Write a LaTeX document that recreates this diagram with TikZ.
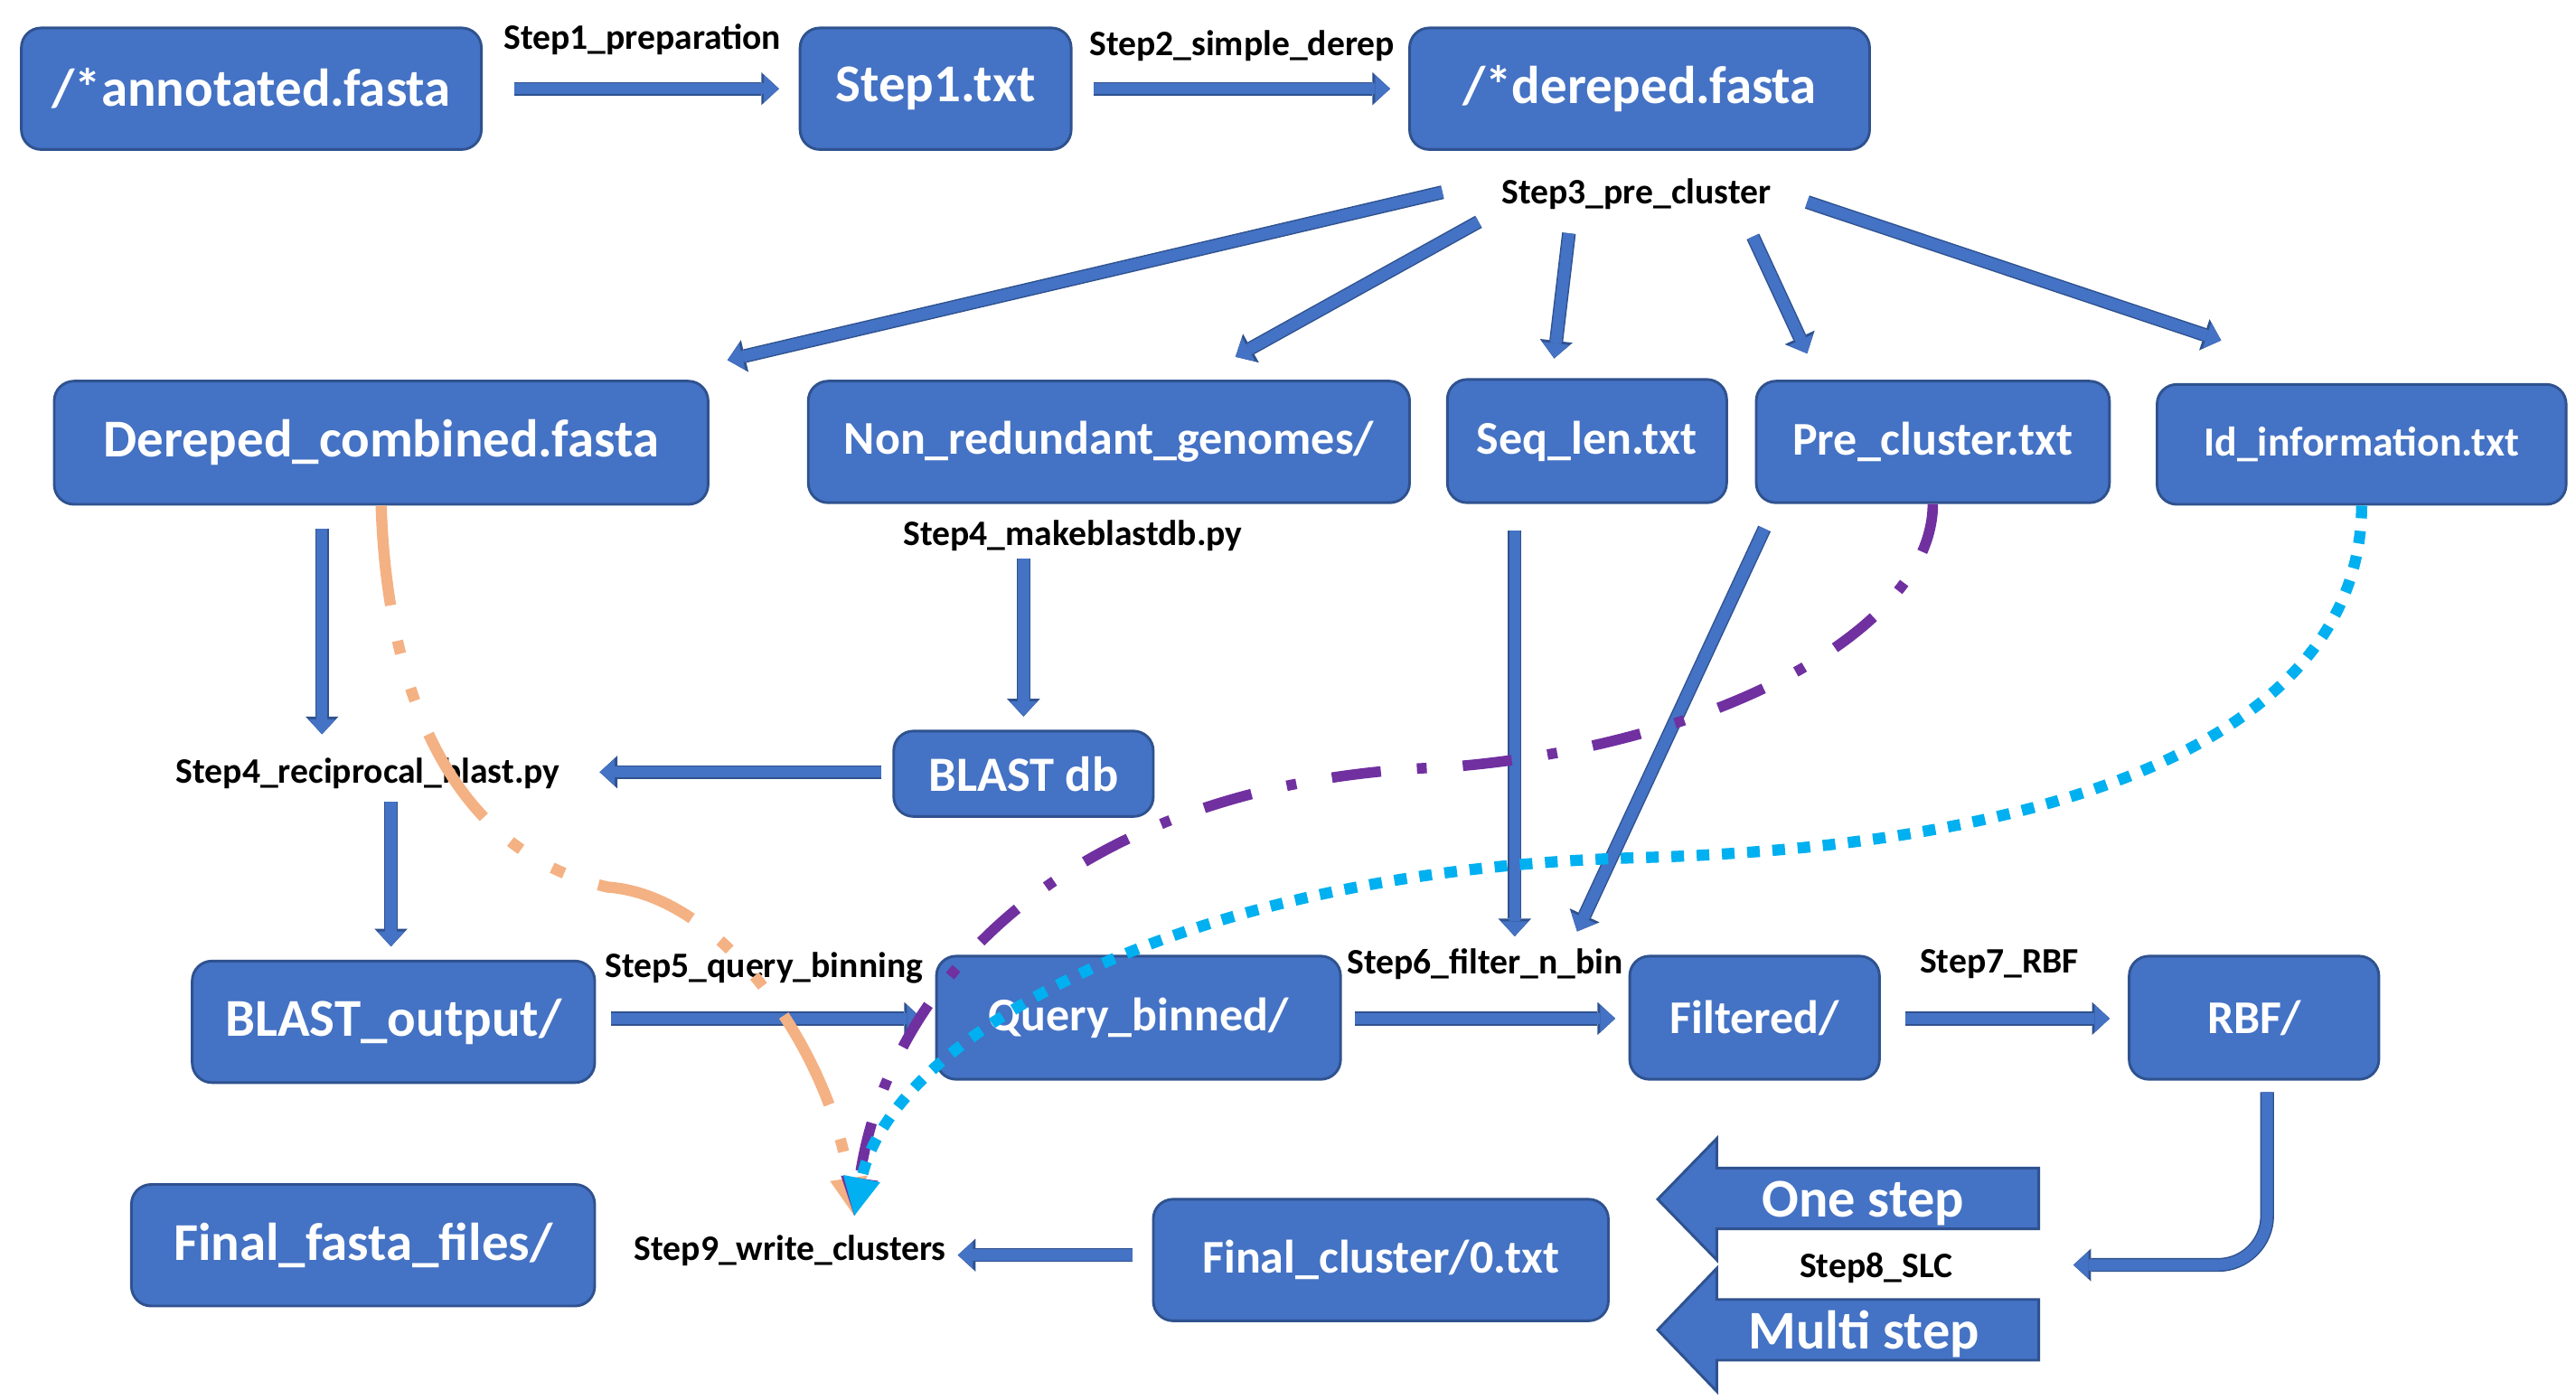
\documentclass[tikz,border=0pt]{standalone}
\usepackage{fontspec}
\setmainfont{Carlito}
\usetikzlibrary{arrows.meta}

\begin{document}
\begin{tikzpicture}[x=0.5pt,y=-0.5pt,
	box/.style={draw=boxedge,fill=boxblue,line width=0.8pt,rounded corners=6pt,text=white,inner sep=0pt},
	bigtext/.style={font=\fontsize{16.2}{19}\selectfont\bfseries},
	midtext/.style={font=\fontsize{14.3}{17}\selectfont\bfseries},
	smalltext/.style={font=\fontsize{12.6}{15}\selectfont\bfseries},
	steplabel/.style={font=\fontsize{10.9}{13}\selectfont\bfseries,inner sep=0pt},
	blockarr/.style={draw=boxblue,line width=3.4pt,-{Triangle[width=8.2pt,length=4.6pt,line width=0pt]},
		preaction={draw=boxedge,line width=4.2pt,-{Triangle[width=10pt,length=5.4pt,line width=0pt]}}},
	bigarr/.style={draw=boxedge,fill=boxblue,line width=0.8pt},
	flow/.style={line width=3.4pt,-{Triangle[width=11.5pt,length=11.5pt,line width=0pt]}}]
	\definecolor{boxblue}{RGB}{68,114,196}
	\definecolor{boxedge}{RGB}{47,82,143}
	\definecolor{orangeline}{RGB}{244,177,131}
	\definecolor{purpleline}{RGB}{112,48,160}
	\definecolor{cyanline}{RGB}{0,176,240}

	\fill[white] (0,0) rectangle (1568,852);

	\node[box,bigtext,minimum width=140pt,minimum height=37pt] (ann) at (153,54) {/*annotated.fasta};
	\node[box,bigtext,minimum width=82.5pt,minimum height=37pt] (step1) at (569.5,54) {Step1.txt};
	\node[box,bigtext,minimum width=140pt,minimum height=37pt] (derep) at (998,54) {/*dereped.fasta};

	\node[box,bigtext,minimum width=199pt,minimum height=37.5pt] (dcomb) at (232,269.5) {Dereped\_combined.fasta};
	\node[box,midtext,minimum width=183pt,minimum height=37pt] (nonred) at (675,269) {Non\_redundant\_genomes/};
	\node[box,midtext,minimum width=85pt,minimum height=37.5pt] (seqlen) at (966,268.5) {Seq\_len.txt};
	\node[box,midtext,minimum width=107.5pt,minimum height=37pt] (precl) at (1176.5,269) {Pre\_cluster.txt};
	\node[box,smalltext,minimum width=124.5pt,minimum height=36.5pt] (idinfo) at (1437.5,270.5) {Id\_information.txt};

	\node[box,font=\fontsize{15}{18}\selectfont\bfseries,minimum width=79pt,minimum height=26pt] (blastdb) at (623,471) {BLAST db};
	\node[box,bigtext,minimum width=122.5pt,minimum height=37pt] (blastout) at (239.5,622) {BLAST\_output/};
	\node[box,midtext,minimum width=123pt,minimum height=37.5pt] (query) at (693,619.5) {Query\_binned/};
	\node[box,midtext,minimum width=76pt,minimum height=37.5pt] (filt) at (1068,619.5) {Filtered/};
	\node[box,midtext,minimum width=76pt,minimum height=37.5pt] (rbf) at (1372,619.5) {RBF/};
	\node[box,midtext,minimum width=138.5pt,minimum height=37pt] (fcl) at (840.5,767) {Final\_cluster/0.txt};
	\node[box,bigtext,minimum width=141pt,minimum height=37pt] (ffa) at (221,758) {Final\_fasta\_files/};

	\node[steplabel] (s1) at (391,24) {Step1\_preparation};
	\node[steplabel] (s2) at (756,28) {Step2\_simple\_derep};
	\node[steplabel] (s3) at (996,118) {Step3\_pre\_cluster};
	\node[steplabel] (s4m) at (653,326) {Step4\_makeblastdb.py};
	\node[steplabel] (s4r) at (224,471) {Step4\_reciprocal\_blast.py};
	\node[steplabel] (s5) at (465,589) {Step5\_query\_binning};
	\node[steplabel] (s6) at (904,587) {Step6\_filter\_n\_bin};
	\node[steplabel] (s7) at (1217,587) {Step7\_RBF};
	\node[steplabel] (s8) at (1142,772) {Step8\_SLC};
	\node[steplabel] (s9) at (481,761) {Step9\_write\_clusters};

	\draw[bigarr] (1241,711) -- (1045,711) -- (1045,693) -- (1009,730) -- (1045,767) -- (1045,748) -- (1241,748) -- cycle;
	\draw[bigarr] (1241,791) -- (1045,791) -- (1045,772) -- (1009,809.5) -- (1045,847) -- (1045,828) -- (1241,828) -- cycle;
	\node[text=white,anchor=base,font=\fontsize{16.6}{19}\selectfont\bfseries] (onestep) at (1134,741) {One step};
	\node[text=white,anchor=base,font=\fontsize{16.6}{19}\selectfont\bfseries] (multistep) at (1134.5,821) {Multi step};

	\draw[blockarr] ([shift={(19,0)}]ann.east) -- ([shift={(-12,0)}]step1.west);
	\draw[blockarr] ([shift={(13,0)}]step1.east) -- ([shift={(-11,0)}]derep.west);

	\draw[blockarr] ([shift={(-118,-1)}]s3.center) -- ([shift={(11,-12)}]dcomb.north east);
	\draw[blockarr] ([shift={(-96,17)}]s3.center) -- ([shift={(77,-14)}]nonred.north);
	\draw[blockarr] ([shift={(-41,24)}]s3.center) -- ([shift={(-20,-12)}]seqlen.north);
	\draw[blockarr] ([shift={(71,26)}]s3.center) -- ([shift={(-76.5,-16)}]precl.north);
	\draw[blockarr] ([shift={(104,5)}]s3.center) -- ([shift={(-85.5,-26)}]idinfo.north);

	\draw[blockarr] ([shift={(-36,14)}]dcomb.south) -- ([shift={(-28,-24)}]s4r.center);
	\draw[blockarr] ([shift={(-30,14)}]s4m.center) -- ([shift={(0,-8)}]blastdb.north);
	\draw[blockarr] ([shift={(-7,-1)}]blastdb.west) -- ([shift={(141,-1)}]s4r.center);
	\draw[blockarr] ([shift={(14,17)}]s4r.center) -- ([shift={(-1.5,-8)}]blastout.north);

	\draw[blockarr] ([shift={(9,-2)}]blastout.east) -- ([shift={(-8,0.5)}]query.west);
	\draw[blockarr] ([shift={(8,0.5)}]query.east) -- ([shift={(-8,0.5)}]filt.west);
	\draw[blockarr] ([shift={(15,0.5)}]filt.east) -- ([shift={(-11,0.5)}]rbf.west);
	\draw[blockarr] ([shift={(-44,16)}]seqlen.south) -- ([shift={(18,-17)}]s6.center);
	\draw[blockarr] ([shift={(-102.5,15)}]precl.south) -- ([shift={(56,-20)}]s6.center);

	\draw[blockarr,rounded corners=15pt] ([shift={(8,7)}]rbf.south) |- ([shift={(120,-2)}]s8.center);
	\draw[blockarr] ([shift={(-12,-3)}]fcl.west) -- ([shift={(102,3)}]s9.center);

	\draw[flow,draw=orangeline,dash pattern=on 30.5pt off 11pt on 4pt off 11pt on 4pt off 11pt]
		(dcomb.south) .. controls (236,430) and (280,520) .. (370,540)
		.. controls (440,545) and (505,640) .. ([shift={(39,-21)}]s9.center);
	\draw[flow,draw=purpleline,line width=3.2pt,dash pattern=on 15pt off 11pt on 3pt off 11pt]
		(precl.south) .. controls (1176,385) and (1040,455) .. (880,467)
		.. controls (650,475) and (540,600) .. ([shift={(39,-21)}]s9.center);
	\draw[flow,draw=cyanline,dash pattern=on 3.85pt off 3.85pt]
		(idinfo.south) .. controls (1437,450) and (1250,515) .. (1000,522)
		.. controls (700,530) and (540,640) .. ([shift={(39,-21)}]s9.center);
\end{tikzpicture}
\end{document}
